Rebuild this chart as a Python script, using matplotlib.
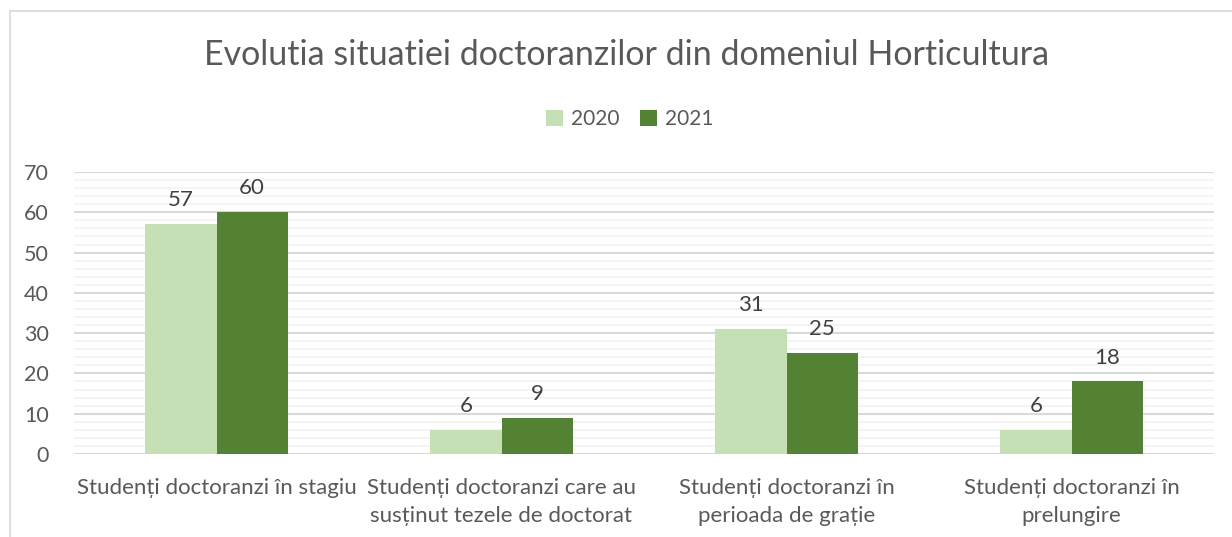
import numpy as np
import matplotlib
matplotlib.use('Agg')
import matplotlib.pyplot as plt
from matplotlib.patches import Rectangle
from matplotlib.ticker import MultipleLocator

plt.rcParams['font.family'] = ['Lato', 'DejaVu Sans']

categories = ["Studenți doctoranzi în stagiu",
              "Studenți doctoranzi care au\nsusținut tezele de doctorat",
              "Studenți doctoranzi în\nperioada de grație",
              "Studenți doctoranzi în\nprelungire"]
years = ["2020", "2021"]
vals_2020 = [57, 6, 31, 6]
vals_2021 = [60, 9, 25, 18]
colors = ["#C5E0B4", "#548235"]

fig = plt.figure(figsize=(12.32, 5.37), dpi=100)
ax = fig.add_axes([74/1232, 1 - 454/537, 1140/1232, 282/537])

# chart frame (cropped at right/bottom in the reference)
fig.patches.append(Rectangle((10/1232, -0.1), 1.2, 1.1 - 11/537, transform=fig.transFigure,
                             fill=False, edgecolor="#D9D9D9", linewidth=1.2, zorder=0))

x = np.arange(len(categories))
w = 0.25
b1 = ax.bar(x - w/2, vals_2020, w, color=colors[0], label=years[0], zorder=3)
b2 = ax.bar(x + w/2, vals_2021, w, color=colors[1], label=years[1], zorder=3)

for bars in (b1, b2):
    ax.bar_label(bars, padding=10, fontsize=16, color="#404040")

ax.set_xlim(-0.5, len(categories) - 0.5)
ax.set_ylim(0, 70)
ax.yaxis.set_major_locator(MultipleLocator(10))
ax.yaxis.set_minor_locator(MultipleLocator(2))
ax.grid(axis='y', which='minor', color="#F2F2F2", linewidth=1.2, zorder=0)
ax.grid(axis='y', which='major', color="#D9D9D9", linewidth=1.5, zorder=1)
ax.set_axisbelow(True)

for s in ax.spines.values():
    s.set_visible(False)
ax.tick_params(axis='both', which='both', length=0)
ax.tick_params(axis='y', labelsize=15.5, labelcolor="#595959", pad=18)
ax.set_xticks(x)
ax.set_xticklabels(categories, fontsize=16, color="#595959", linespacing=1.55)
ax.tick_params(axis='x', pad=17)

fig.text(627/1232, 1 - 55/537, "Evolutia situatiei doctoranzilor din domeniul Horticultura",
         ha='center', va='center', fontsize=24.5, color="#595959")

fig.legend(handles=[b1, b2], labels=years, loc='center', bbox_to_anchor=(630/1232, 1 - 119/537),
           ncol=2, frameon=False, fontsize=15, labelcolor="#595959",
           handlelength=0.8, handleheight=0.8, handletextpad=0.4, columnspacing=1.0)

fig.savefig("out.png", dpi=100, facecolor="white")
